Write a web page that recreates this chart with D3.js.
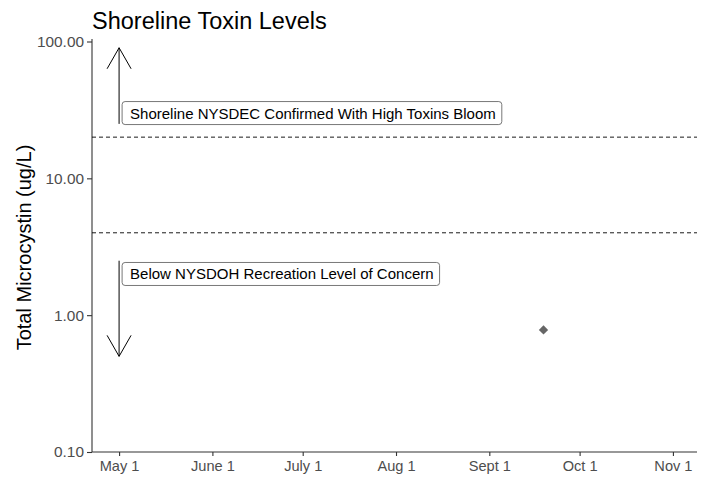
<!DOCTYPE html>
<html><head><meta charset="utf-8">
<script src="https://cdn.jsdelivr.net/npm/d3@7"></script>
<style>body{margin:0;background:#fff;} text{font-family:"Liberation Sans",Arial,sans-serif;}</style>
</head><body>
<svg id="c" width="711" height="477"></svg>
<script>
const title = "Shoreline Toxin Levels";
const yTitle = "Total Microcystin (ug/L)";
const yTicks = [0.1, 1, 10, 100];
const xTickDates = ["2019-05-01","2019-06-01","2019-07-01","2019-08-01","2019-09-01","2019-10-01","2019-11-01"];
const xTickLabels = ["May 1","June 1","July 1","Aug 1","Sept 1","Oct 1","Nov 1"];
const pointDates = ["2019-09-19"];
const pointValues = [0.78];
const thresholds = [20, 4];
const arrows = [{date:"2019-05-01", from:25, to:90},{date:"2019-05-01", from:2.5, to:0.5}];
const labels = [{date:"2019-05-02", value:30, text:"Shoreline NYSDEC Confirmed With High Toxins Bloom"},
                {date:"2019-05-02", value:2, text:"Below NYSDOH Recreation Level of Concern"}];

const parse = d3.timeParse("%Y-%m-%d");
const svg = d3.select("#c");
const L = 92, R = 697, T = 39, B = 452;
const x = d3.scaleTime().domain([parse("2019-04-22"), parse("2019-11-09")]).range([L, R]);
const y = d3.scaleLog().domain([0.1, 100]).range([B, 41.5]);

// title
svg.append("text").attr("x", 92).attr("y", 29).attr("font-size", 23.5).attr("fill", "#000").text(title);

// axes
const gy = svg.append("g").attr("transform", `translate(${L},0)`)
  .call(d3.axisLeft(y).tickValues(yTicks).tickFormat(d3.format(".2f")).tickSize(5).tickPadding(3));
gy.select(".domain").attr("d", `M0,${T}V${B}`);
const gx = svg.append("g").attr("transform", `translate(0,${B})`)
  .call(d3.axisBottom(x).tickValues(xTickDates.map(parse)).tickFormat((d,i)=>xTickLabels[i]).tickSize(4).tickPadding(5));
gx.select(".domain").attr("d", `M${L},0H${R}`);
[gx, gy].forEach(g => {
  g.select(".domain").attr("stroke", "#333").attr("stroke-width", 1.1);
  g.selectAll(".tick line").attr("stroke", "#333").attr("stroke-width", 1.1);
  g.selectAll(".tick text").attr("fill", "#4d4d4d").attr("font-family", "Liberation Sans, Arial, sans-serif");
});
gx.selectAll(".tick text").attr("font-size", 14.6);
gy.selectAll(".tick text").attr("font-size", 15.4);

svg.append("text").attr("transform", `translate(31,${(T+B)/2+2}) rotate(-90)`).attr("text-anchor","middle")
  .attr("font-size", 20).attr("fill","#000").text(yTitle);

// threshold lines
svg.selectAll(".th").data(thresholds).enter().append("line")
  .attr("x1", L).attr("x2", R).attr("y1", d=>y(d)).attr("y2", d=>y(d))
  .attr("stroke", "#000").attr("stroke-width", 0.9).attr("stroke-dasharray", "4,3");

// arrows
arrows.forEach(a => {
  const ax = x(parse(a.date)), y0 = y(a.from), y1 = y(a.to);
  const dir = y1 < y0 ? 1 : -1;
  svg.append("line").attr("x1", ax).attr("x2", ax).attr("y1", y0).attr("y2", y1).attr("stroke","#000").attr("stroke-width",1);
  svg.append("path").attr("d", `M${ax-12},${y1+dir*21}L${ax},${y1}L${ax+12},${y1+dir*21}`)
    .attr("fill","none").attr("stroke","#000").attr("stroke-width",1);
});

// labels
labels.forEach(l => {
  const lx = x(parse(l.date)), ly = y(l.value);
  const g = svg.append("g");
  const t = g.append("text").attr("x", lx + 8).attr("y", ly + 5.5).attr("font-size", 15).attr("fill","#000").text(l.text);
  const bb = t.node().getBBox();
  g.insert("rect", "text").attr("x", lx).attr("y", ly - 11.5).attr("width", bb.width + 14).attr("height", 23)
    .attr("rx", 3).attr("fill","#fff").attr("stroke","#555").attr("stroke-width",0.8);
});

// points
svg.selectAll(".pt").data(pointValues).enter().append("path")
  .attr("d", d3.symbol().type(d3.symbolDiamond2).size(55))
  .attr("transform", (d,i)=>`translate(${x(parse(pointDates[i]))},${y(d)})`)
  .attr("fill", "#666");
</script>
</body></html>
